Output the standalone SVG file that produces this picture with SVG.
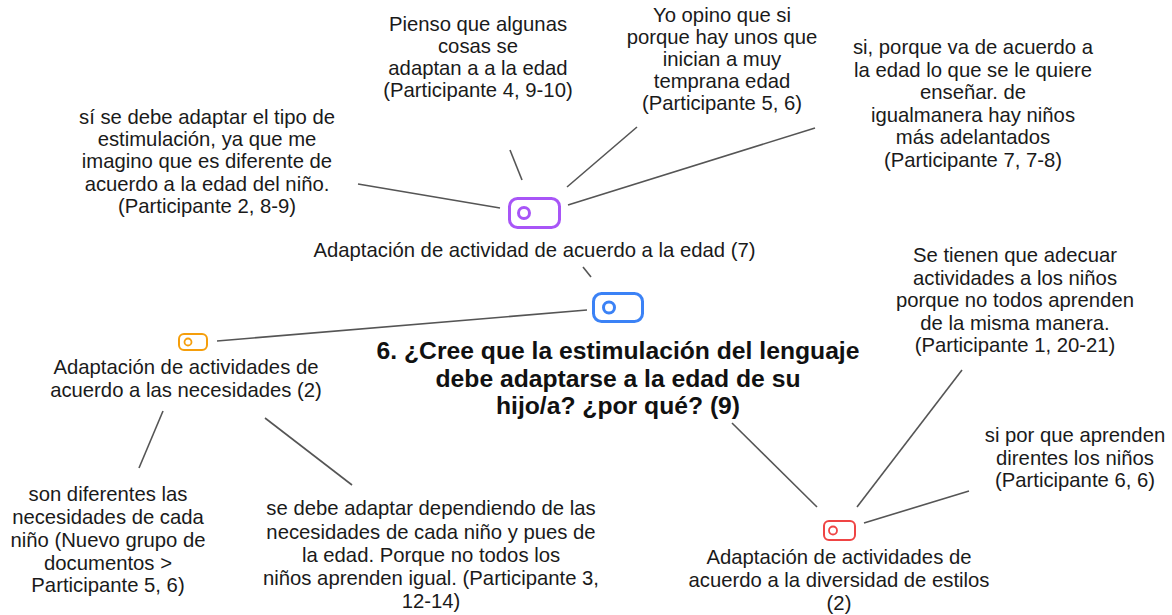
<svg xmlns="http://www.w3.org/2000/svg" width="1172" height="615" viewBox="0 0 1172 615">
<style>
.t{font-family:"Liberation Sans",Arial,sans-serif;font-size:20.3px;fill:#1a1a1a;text-anchor:middle}
.title{font-family:"Liberation Sans",Arial,sans-serif;font-size:24.7px;font-weight:bold;fill:#111;text-anchor:middle}
.c line{stroke:#555;stroke-width:1.6}
.ic{fill:none}
</style>
<rect width="1172" height="615" fill="#fff"/>
<g class="c" id="connectors">
<line x1="358" y1="184" x2="500" y2="208"/>
<line x1="510" y1="150" x2="522" y2="180"/>
<line x1="637" y1="127" x2="567" y2="187"/>
<line x1="815" y1="128" x2="568" y2="205"/>
<line x1="583" y1="267" x2="591" y2="277"/>
<line x1="217" y1="341" x2="587" y2="310"/>
<line x1="163" y1="411" x2="139" y2="468"/>
<line x1="265" y1="418" x2="352" y2="485"/>
<line x1="732" y1="423" x2="817" y2="507"/>
<line x1="962" y1="370" x2="857" y2="507"/>
<line x1="969" y1="491" x2="864" y2="523"/>
</g>
<g id="root">
<rect class="ic" x="593.5" y="293.5" width="49" height="28" rx="8" stroke="#3b82f6" stroke-width="3"/>
<circle class="ic" cx="609" cy="307.5" r="5.5" stroke="#3b82f6" stroke-width="3"/>
<text class="title"><tspan x="618" y="359">6. ¿Cree que la estimulación del lenguaje</tspan><tspan x="618" y="386.5">debe adaptarse a la edad de su</tspan><tspan x="618" y="414">hijo/a? ¿por qué? (9)</tspan></text>
</g>
<g id="edad">
<rect class="ic" x="509.5" y="198.5" width="50" height="29" rx="8" stroke="#a855f7" stroke-width="3"/>
<circle class="ic" cx="524" cy="213" r="5.5" stroke="#a855f7" stroke-width="3"/>
<text class="t" x="534.5" y="257">Adaptación de actividad de acuerdo a la edad (7)</text>
</g>
<g id="necesidades">
<rect class="ic" x="179" y="334" width="28" height="16" rx="5" stroke="#f59e0b" stroke-width="2"/>
<circle class="ic" cx="188" cy="342" r="3.5" stroke="#f59e0b" stroke-width="1.8"/>
<text class="t"><tspan x="186" y="374">Adaptación de actividades de</tspan><tspan x="186" y="397">acuerdo a las necesidades (2)</tspan></text>
</g>
<g id="diversidad">
<rect class="ic" x="824" y="521" width="31" height="19" rx="5" stroke="#ef4444" stroke-width="2"/>
<circle class="ic" cx="833" cy="530.5" r="4" stroke="#ef4444" stroke-width="1.8"/>
<text class="t"><tspan x="839" y="564">Adaptación de actividades de</tspan><tspan x="839" y="587">acuerdo a la diversidad de estilos</tspan><tspan x="839" y="610">(2)</tspan></text>
</g>
<g id="q-p4">
<text class="t"><tspan x="478" y="31">Pienso que algunas</tspan><tspan x="478" y="53">cosas se</tspan><tspan x="478" y="75">adaptan a a la edad</tspan><tspan x="478" y="97">(Participante 4, 9-10)</tspan></text>
</g>
<g id="q-p5a">
<text class="t"><tspan x="722" y="22">Yo opino que si</tspan><tspan x="722" y="44">porque hay unos que</tspan><tspan x="722" y="66">inician a muy</tspan><tspan x="722" y="88">temprana edad</tspan><tspan x="722" y="110">(Participante 5, 6)</tspan></text>
</g>
<g id="q-p7">
<text class="t"><tspan x="973" y="54">si, porque va de acuerdo a</tspan><tspan x="973" y="76.5">la edad lo que se le quiere</tspan><tspan x="973" y="99">enseñar. de</tspan><tspan x="973" y="121.5">igualmanera hay niños</tspan><tspan x="973" y="144">más adelantados</tspan><tspan x="973" y="166.5">(Participante 7, 7-8)</tspan></text>
</g>
<g id="q-p2">
<text class="t"><tspan x="207" y="124">sí se debe adaptar el tipo de</tspan><tspan x="207" y="146">estimulación, ya que me</tspan><tspan x="207" y="168">imagino que es diferente de</tspan><tspan x="207" y="191">acuerdo a la edad del niño.</tspan><tspan x="207" y="213">(Participante 2, 8-9)</tspan></text>
</g>
<g id="q-p1">
<text class="t"><tspan x="1015" y="262">Se tienen que adecuar</tspan><tspan x="1015" y="284.5">actividades a los niños</tspan><tspan x="1015" y="307">porque no todos aprenden</tspan><tspan x="1015" y="329.5">de la misma manera.</tspan><tspan x="1015" y="352">(Participante 1, 20-21)</tspan></text>
</g>
<g id="q-p6">
<text class="t"><tspan x="1075" y="442">si por que aprenden</tspan><tspan x="1075" y="464.5">direntes los niños</tspan><tspan x="1075" y="487">(Participante 6, 6)</tspan></text>
</g>
<g id="q-p5b">
<text class="t"><tspan x="108" y="501">son diferentes las</tspan><tspan x="108" y="524">necesidades de cada</tspan><tspan x="108" y="547">niño (Nuevo grupo de</tspan><tspan x="108" y="570">documentos &gt;</tspan><tspan x="108" y="592">Participante 5, 6)</tspan></text>
</g>
<g id="q-p3">
<text class="t"><tspan x="431" y="515">se debe adaptar dependiendo de las</tspan><tspan x="431" y="539">necesidades de cada niño y pues de</tspan><tspan x="431" y="562">la edad. Porque no todos los</tspan><tspan x="431" y="585">niños aprenden igual. (Participante 3,</tspan><tspan x="431" y="608">12-14)</tspan></text>
</g>
</svg>
